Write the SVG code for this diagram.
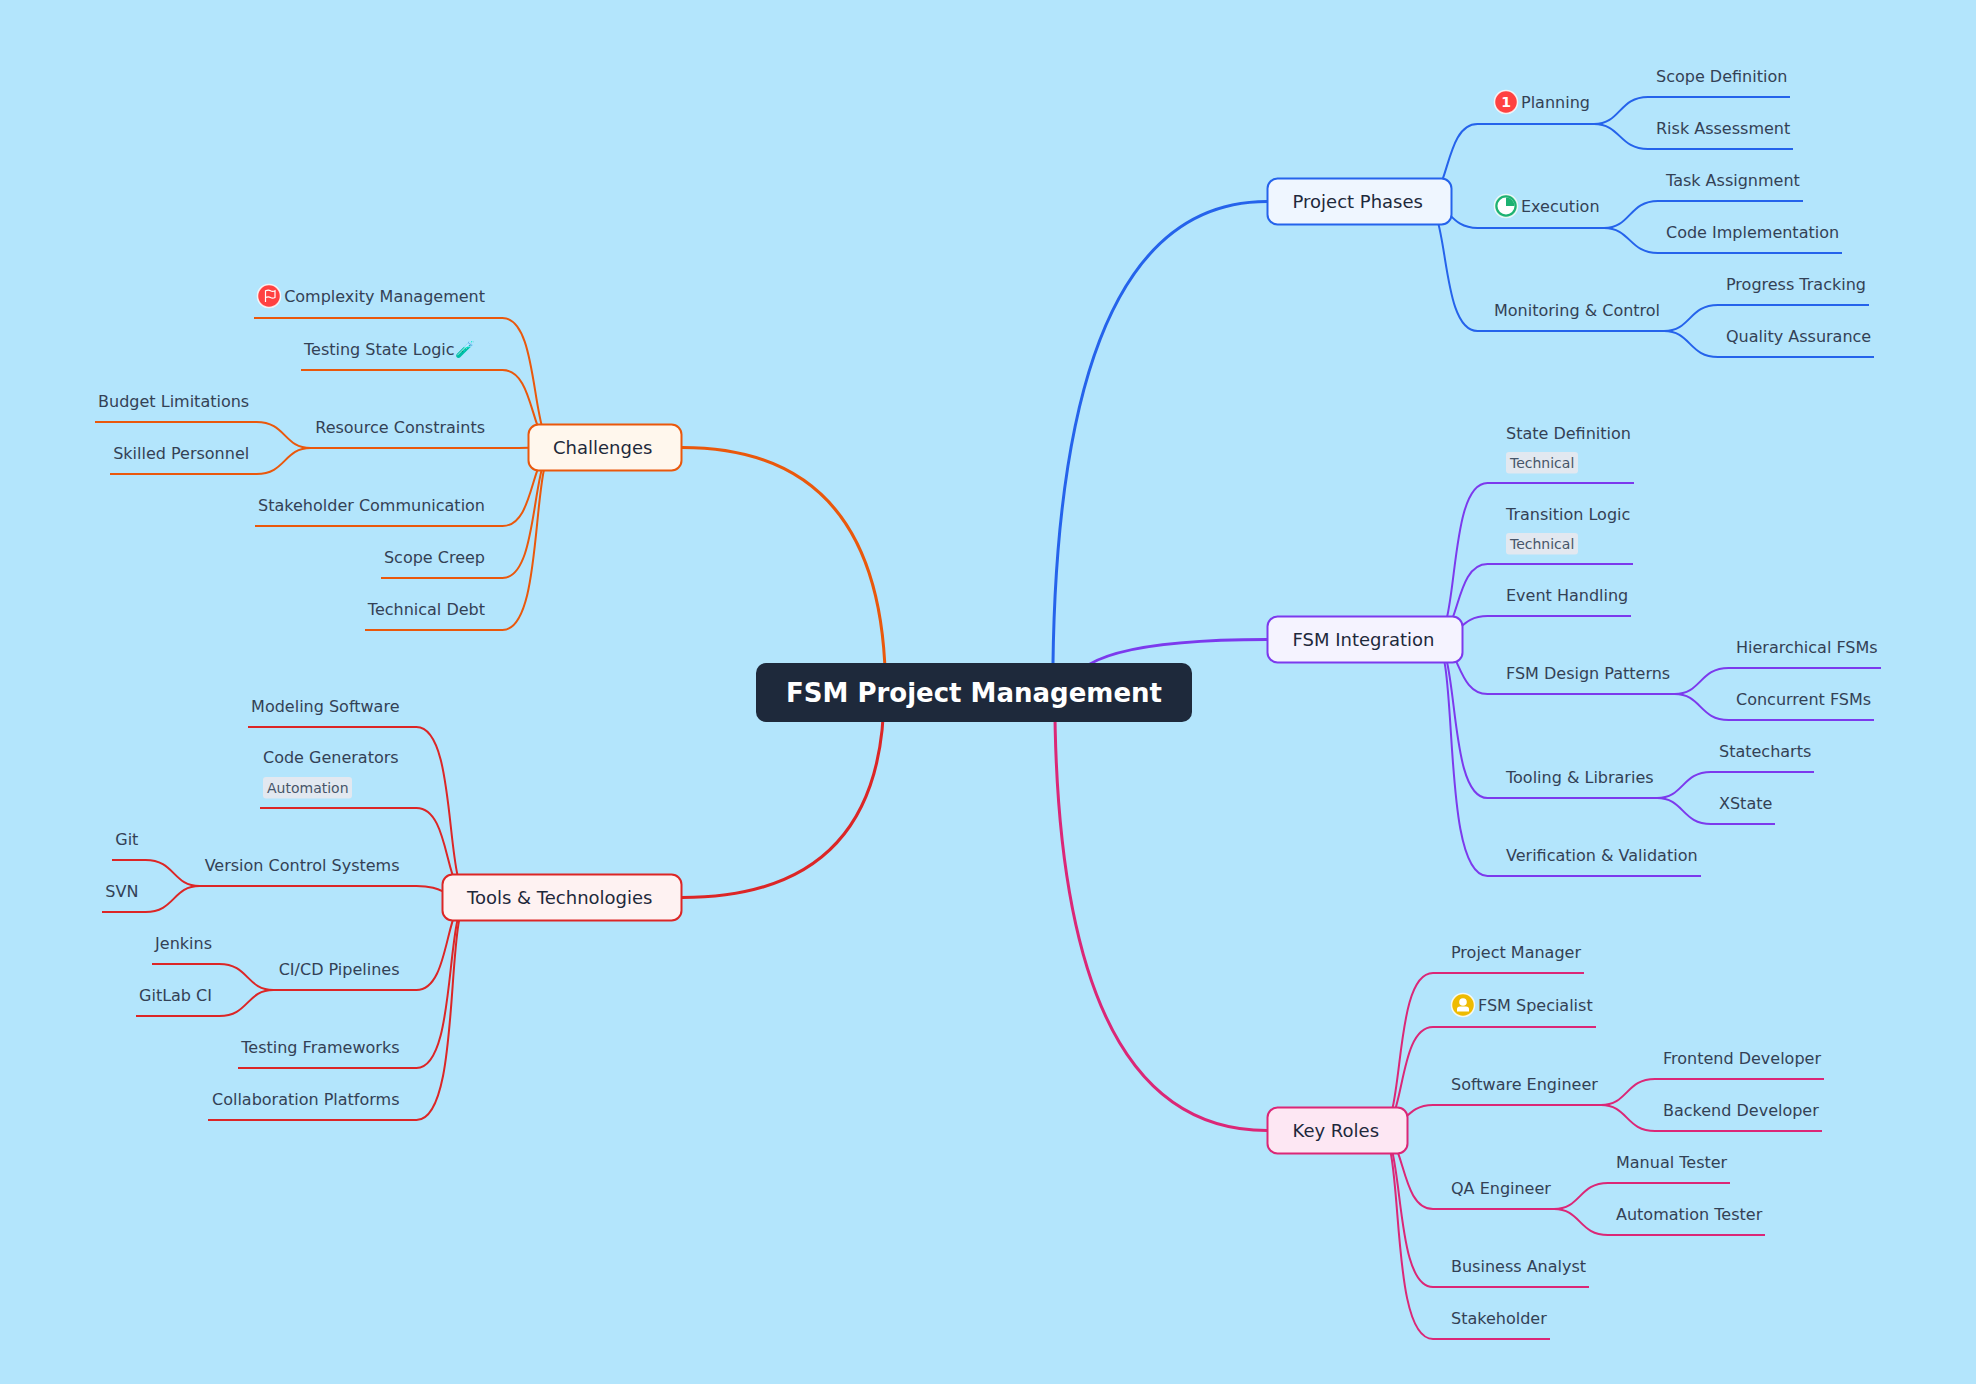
<svg xmlns="http://www.w3.org/2000/svg" width="1976" height="1384" viewBox="0 0 1976 1384">
<style>
text{font-family:"DejaVu Sans",sans-serif}
.l{fill:#334155;font-size:16px}
.e{text-anchor:end}
.b{font-size:18px;fill:#1e293b}
.r{font-size:26px;font-weight:700;fill:#fff;text-anchor:middle}
.t{font-size:14px;fill:#475569}
.tb{fill:#e2e8f0}
.c{fill:none;stroke-linecap:butt}
.m{stroke-width:3}
.s{stroke-width:2}
.ring{stroke:#fff;stroke-opacity:.85;stroke-width:1.5}
.bx{stroke-width:2}
.blue{stroke:#2563eb}.purple{stroke:#7c3aed}.pink{stroke:#db2777}.orange{stroke:#ea580c}.red{stroke:#dc2626}
</style>
<rect width="1976" height="1384" fill="#b3e5fc"/>
<g id="connectors" class="c">
<g class="m">
<path class="blue" d="M1052.8 692Q1052.8 201.5 1267 201.5"/>
<path class="purple" d="M1070 692Q1070 639.5 1267 639.5"/>
<path class="pink" d="M1054.8 692Q1054.8 1130.5 1267 1130.5"/>
<path class="orange" d="M885.5 692Q885.5 447.5 682 447.5"/>
<path class="red" d="M884 692Q884 897.5 682 897.5"/>
</g>
<g class="s blue">
<path d="M1423.5 201.5C1450.5 201.5 1443.5 124 1477.5 124H1596"/>
<path d="M1423.5 201.5C1450.5 201.5 1448.1 228 1477.5 228H1606"/>
<path d="M1423.5 201.5C1450.5 201.5 1438.8 331 1477.5 331H1666"/>
<path d="M1594 124C1621 124 1618.7 97 1648 97H1790"/>
<path d="M1594 124C1621 124 1618.7 149 1648 149H1793"/>
<path d="M1604 228C1631 228 1628.7 201 1658 201H1803"/>
<path d="M1604 228C1631 228 1628.7 253 1658 253H1842"/>
<path d="M1664 331C1691 331 1688.7 305 1718 305H1869"/>
<path d="M1664 331C1691 331 1688.7 357 1718 357H1874"/>
</g>
<g class="s purple">
<path d="M1433.5 639.5C1460.5 639.5 1446.4 483 1487.5 483H1634"/>
<path d="M1433.5 639.5C1460.5 639.5 1453.7 564 1487.5 564H1633"/>
<path d="M1433.5 639.5C1460.5 639.5 1458.4 616 1487.5 616H1631"/>
<path d="M1433.5 639.5C1460.5 639.5 1455.6 694 1487.5 694H1676"/>
<path d="M1433.5 639.5C1460.5 639.5 1446.2 798 1487.5 798H1659"/>
<path d="M1433.5 639.5C1460.5 639.5 1439.2 876 1487.5 876H1701"/>
<path d="M1674.6 694C1701.6 694 1699.3 668 1728.6 668H1881"/>
<path d="M1674.6 694C1701.6 694 1699.3 720 1728.6 720H1874"/>
<path d="M1657 798C1684 798 1681.7 772 1711 772H1814"/>
<path d="M1657 798C1684 798 1681.7 824 1711 824H1775"/>
</g>
<g class="s pink">
<path d="M1379 1130.5C1406 1130.5 1391.8 973 1433 973H1584"/>
<path d="M1379 1130.5C1406 1130.5 1396.7 1027 1433 1027H1596"/>
<path d="M1379 1130.5C1406 1130.5 1403.7 1105 1433 1105H1603"/>
<path d="M1379 1130.5C1406 1130.5 1398.9 1209 1433 1209H1556"/>
<path d="M1379 1130.5C1406 1130.5 1391.9 1287 1433 1287H1589"/>
<path d="M1379 1130.5C1406 1130.5 1387.2 1339 1433 1339H1550"/>
<path d="M1601 1105C1628 1105 1625.7 1079 1655 1079H1824"/>
<path d="M1601 1105C1628 1105 1625.7 1131 1655 1131H1822"/>
<path d="M1554 1209C1581 1209 1578.7 1183 1608 1183H1730"/>
<path d="M1554 1209C1581 1209 1578.7 1235 1608 1235H1765"/>
</g>
<g class="s orange">
<path d="M556.5 447.5C529.5 447.5 541.2 318 502.5 318H254"/>
<path d="M556.5 447.5C529.5 447.5 536.5 370 502.5 370H301"/>
<path d="M556.5 447.5C529.5 447.5 529.5 448 502.5 448H308"/>
<path d="M556.5 447.5C529.5 447.5 536.6 526 502.5 526H255"/>
<path d="M556.5 447.5C529.5 447.5 541.2 578 502.5 578H381"/>
<path d="M556.5 447.5C529.5 447.5 545.9 630 502.5 630H365"/>
<path d="M310.6 448C283.6 448 285.9 422 256.6 422H95"/>
<path d="M310.6 448C283.6 448 285.9 474 256.6 474H110"/>
</g>
<g class="s red">
<path d="M470.5 897.5C443.5 897.5 458.8 727 416.5 727H248"/>
<path d="M470.5 897.5C443.5 897.5 451.6 808 416.5 808H260"/>
<path d="M470.5 897.5C443.5 897.5 444.5 886 416.5 886H197"/>
<path d="M470.5 897.5C443.5 897.5 451.8 990 416.5 990H271"/>
<path d="M470.5 897.5C443.5 897.5 458.8 1068 416.5 1068H238"/>
<path d="M470.5 897.5C443.5 897.5 463.5 1120 416.5 1120H208"/>
<path d="M199.6 886C172.6 886 174.9 860 145.6 860H112"/>
<path d="M199.6 886C172.6 886 174.9 912 145.6 912H102"/>
<path d="M273.4 990C246.4 990 248.7 964 219.4 964H152"/>
<path d="M273.4 990C246.4 990 248.7 1016 219.4 1016H136"/>
</g>
</g>
<g id="root"><rect x="756" y="663" width="436" height="59" rx="10" fill="#1e293b"/><text class="r" x="974" y="702">FSM Project Management</text></g>
<g id="project-phases"><rect class="bx blue" x="1267.5" y="178.5" width="184" height="46" rx="10" fill="#eff6ff"/><text class="b" x="1292.5" y="208">Project Phases</text></g>
<g id="fsm-integration"><rect class="bx purple" x="1267.5" y="616.5" width="195" height="46" rx="10" fill="#f5f3ff"/><text class="b" x="1292.5" y="646">FSM Integration</text></g>
<g id="key-roles"><rect class="bx pink" x="1267.5" y="1107.5" width="140" height="46" rx="10" fill="#fde7f3"/><text class="b" x="1292.5" y="1137">Key Roles</text></g>
<g id="challenges"><rect class="bx orange" x="528.5" y="424.5" width="153" height="46" rx="10" fill="#fff7ed"/><text class="b" x="553" y="454">Challenges</text></g>
<g id="tools"><rect class="bx red" x="442.5" y="874.5" width="239" height="46" rx="10" fill="#fef2f2"/><text class="b" x="467" y="904">Tools &amp; Technologies</text></g>

<g id="planning"><circle class="ring" cx="1506" cy="102" r="11.5" fill="#ff4141"/><text x="1506" y="107" font-size="14" font-weight="700" fill="#fff" text-anchor="middle">1</text><text class="l" x="1521" y="108">Planning</text></g>
<g id="scope-definition"><text class="l" x="1656" y="82">Scope Definition</text></g>
<g id="risk-assessment"><text class="l" x="1656" y="134">Risk Assessment</text></g>
<g id="execution"><circle class="ring" cx="1506" cy="206" r="11.5" fill="#1db272"/><circle cx="1506" cy="206" r="8.5" fill="#fff"/><path d="M1506 206V197.5A8.5 8.5 0 0 1 1514.5 206Z" fill="#1db272"/><text class="l" x="1521" y="212">Execution</text></g>
<g id="task-assignment"><text class="l" x="1666" y="186">Task Assignment</text></g>
<g id="code-implementation"><text class="l" x="1666" y="238">Code Implementation</text></g>
<g id="monitoring-control"><text class="l" x="1494" y="316">Monitoring &amp; Control</text></g>
<g id="progress-tracking"><text class="l" x="1726" y="290">Progress Tracking</text></g>
<g id="quality-assurance"><text class="l" x="1726" y="342">Quality Assurance</text></g>

<g id="state-definition"><text class="l" x="1506" y="439">State Definition</text><rect class="tb" x="1506" y="452" width="72" height="21.5" rx="3"/><text class="t" x="1510" y="468">Technical</text></g>
<g id="transition-logic"><text class="l" x="1506" y="520">Transition Logic</text><rect class="tb" x="1506" y="533" width="72" height="21.5" rx="3"/><text class="t" x="1510" y="549">Technical</text></g>
<g id="event-handling"><text class="l" x="1506" y="601">Event Handling</text></g>
<g id="fsm-design-patterns"><text class="l" x="1506" y="679">FSM Design Patterns</text></g>
<g id="hierarchical-fsms"><text class="l" x="1736" y="653">Hierarchical FSMs</text></g>
<g id="concurrent-fsms"><text class="l" x="1736" y="705">Concurrent FSMs</text></g>
<g id="tooling-libraries"><text class="l" x="1506" y="783">Tooling &amp; Libraries</text></g>
<g id="statecharts"><text class="l" x="1719" y="757">Statecharts</text></g>
<g id="xstate"><text class="l" x="1719" y="809">XState</text></g>
<g id="verification-validation"><text class="l" x="1506" y="861">Verification &amp; Validation</text></g>

<g id="project-manager"><text class="l" x="1451" y="958">Project Manager</text></g>
<g id="fsm-specialist"><circle class="ring" cx="1463" cy="1005" r="11.5" fill="#eebb00"/><circle cx="1463" cy="1002" r="3.8" fill="#fff"/><path d="M1457 1011.5V1009Q1457 1006.5 1460 1006.5H1466Q1469 1006.5 1469 1009V1011.5Z" fill="#fff"/><text class="l" x="1478" y="1011">FSM Specialist</text></g>
<g id="software-engineer"><text class="l" x="1451" y="1090">Software Engineer</text></g>
<g id="frontend-developer"><text class="l" x="1663" y="1064">Frontend Developer</text></g>
<g id="backend-developer"><text class="l" x="1663" y="1116">Backend Developer</text></g>
<g id="qa-engineer"><text class="l" x="1451" y="1194">QA Engineer</text></g>
<g id="manual-tester"><text class="l" x="1616" y="1168">Manual Tester</text></g>
<g id="automation-tester"><text class="l" x="1616" y="1220">Automation Tester</text></g>
<g id="business-analyst"><text class="l" x="1451" y="1272">Business Analyst</text></g>
<g id="stakeholder"><text class="l" x="1451" y="1324">Stakeholder</text></g>

<g id="complexity-management"><circle class="ring" cx="269" cy="296" r="11.5" fill="#ff4141"/><path d="M265.5 302V290.8Q268.5 289.5 270.5 290.8T275 290.8V297.5Q272.5 298.8 270.5 297.5T265.5 297.5" fill="none" stroke="#fff" stroke-width="1.2"/><text class="l e" x="485" y="302">Complexity Management</text></g>
<g id="testing-state-logic"><text class="l" x="304" y="355">Testing State Logic🧪</text></g>
<g id="resource-constraints"><text class="l e" x="485" y="433">Resource Constraints</text></g>
<g id="budget-limitations"><text class="l e" x="249.2" y="407">Budget Limitations</text></g>
<g id="skilled-personnel"><text class="l e" x="249.2" y="459">Skilled Personnel</text></g>
<g id="stakeholder-communication"><text class="l e" x="485" y="511">Stakeholder Communication</text></g>
<g id="scope-creep"><text class="l e" x="485" y="563">Scope Creep</text></g>
<g id="technical-debt"><text class="l e" x="485" y="615">Technical Debt</text></g>

<g id="modeling-software"><text class="l e" x="399.5" y="712">Modeling Software</text></g>
<g id="code-generators"><text class="l" x="263" y="763">Code Generators</text><rect class="tb" x="263" y="777" width="89" height="21.5" rx="3"/><text class="t" x="267" y="793">Automation</text></g>
<g id="version-control-systems"><text class="l e" x="399.5" y="871">Version Control Systems</text></g>
<g id="git"><text class="l e" x="138.4" y="845">Git</text></g>
<g id="svn"><text class="l e" x="138.4" y="897">SVN</text></g>
<g id="cicd-pipelines"><text class="l e" x="399.5" y="975">CI/CD Pipelines</text></g>
<g id="jenkins"><text class="l e" x="212" y="949">Jenkins</text></g>
<g id="gitlab-ci"><text class="l e" x="212" y="1001">GitLab CI</text></g>
<g id="testing-frameworks"><text class="l e" x="399.5" y="1053">Testing Frameworks</text></g>
<g id="collaboration-platforms"><text class="l e" x="399.5" y="1105">Collaboration Platforms</text></g>
</svg>
